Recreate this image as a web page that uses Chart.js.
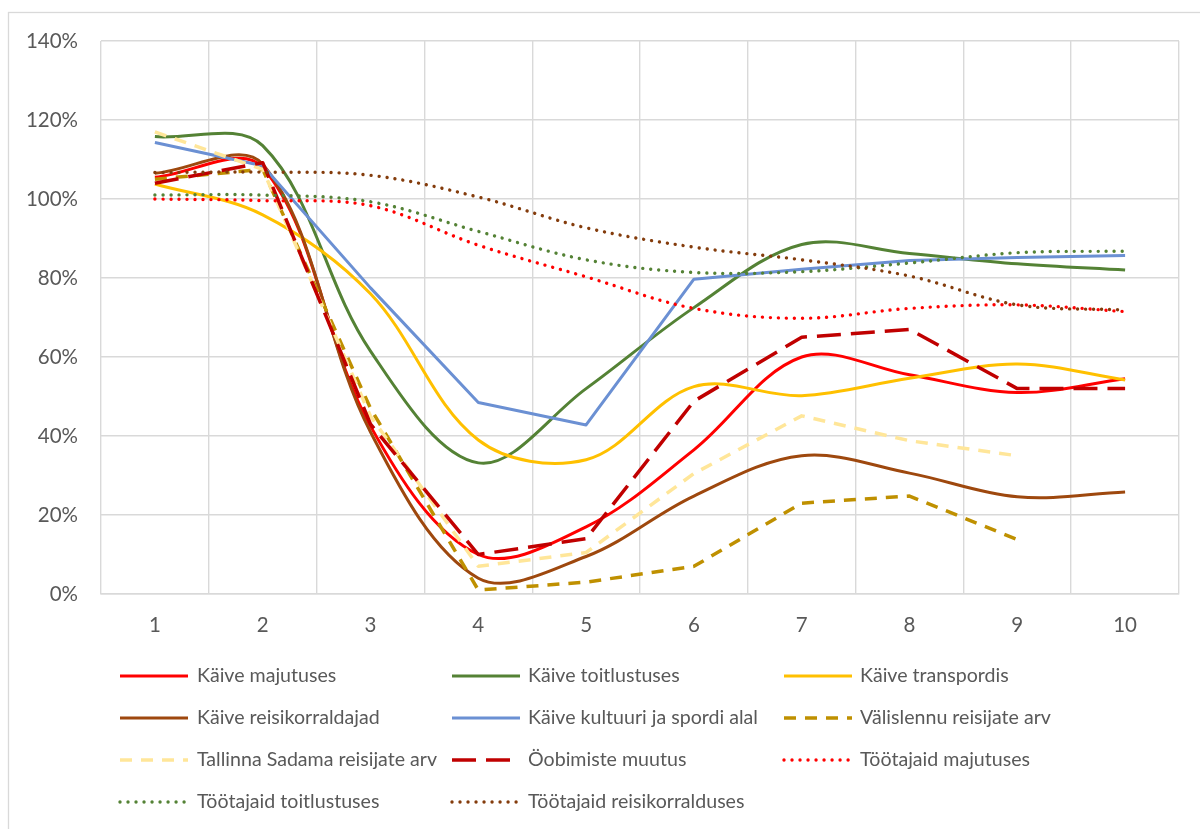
<!DOCTYPE html>
<html>
<head>
<meta charset="utf-8">
<script src="https://cdn.jsdelivr.net/npm/chart.js@4/dist/chart.umd.min.js"></script>
<style>
  html, body { margin: 0; padding: 0; background: #fff; }
  #wrap { width: 1200px; height: 829px; position: relative; }
</style>
</head>
<body>
<div id="wrap"><canvas id="c" width="1200" height="829"></canvas></div>
<script>
const categories = ['1', '2', '3', '4', '5', '6', '7', '8', '9', '10'];
const yTicks = [0, 20, 40, 60, 80, 100, 120, 140];

const kaiveMajutuses = [105.5, 108, 42.5, 10, 17, 36.5, 60, 55.5, 51, 54.5];
const kaiveToitlustuses = [115.8, 113.5, 61.5, 33.2, 52, 72.5, 88.5, 86.2, 83.6, 82];
const kaiveTranspordis = [103.8, 96, 76, 39, 34, 52.5, 50.2, 54.6, 58.2, 54.2];
const kaiveReisikorraldajad = [106.5, 108.8, 41, 4, 9.5, 24.8, 35, 30.6, 24.6, 25.8];
const kaiveKultuuri = [114.3, 108.4, 77.5, 48.5, 42.8, 79.7, 82.2, 84.4, 85.2, 85.7];
const valislennu = [105, 107.5, 47, 1, 3, 7, 23, 24.8, 13.8, null];
const tallinnaSadam = [117, 107.5, 45, 7, 10.5, 30.5, 45.1, 38.8, 35, null];
const oobimised = [104, 109.2, 43, 10, 14, 48.8, 65, 67, 52, 52];
const tootajaidMajutuses = [100, 99.6, 98.3, 88.3, 80.3, 72.3, 69.8, 72.3, 73.2, 71.5];
const tootajaidToitlustuses = [101, 101, 99.3, 91.8, 84.6, 81.4, 81.6, 83.8, 86.4, 86.8];
const tootajaidReisikorralduses = [106.7, 106.8, 106, 100.5, 92.7, 87.8, 84.6, 80.5, 73.2, 71.9];

const FONT = 'Lato, "Open Sans", sans-serif';
const TEXT = '#595959';
const GRID = '#d9d9d9';

const DOT = [0.01, 8];
const DASH = [12, 9];
const LONGDASH = [24, 10];

function ds(label, data, color, opts) {
  return Object.assign({
    label, data,
    borderColor: color, backgroundColor: color,
    borderWidth: 3,
    pointRadius: 0, pointHoverRadius: 0,
    tension: 0.35,
    fill: false,
    borderCapStyle: 'butt',
    borderJoinStyle: 'round',
    spanGaps: false
  }, opts || {});
}

const datasets = [
  ds('Käive majutuses', kaiveMajutuses, '#FF0000'),
  ds('Käive toitlustuses', kaiveToitlustuses, '#548235'),
  ds('Käive transpordis', kaiveTranspordis, '#FFC000'),
  ds('Käive reisikorraldajad', kaiveReisikorraldajad, '#9E480E'),
  ds('Käive kultuuri ja spordi alal', kaiveKultuuri, '#6B90D3', { tension: 0 }),
  ds('Välislennu reisijate arv', valislennu, '#BF9000', { tension: 0, borderDash: DASH, borderWidth: 3.5 }),
  ds('Tallinna Sadama reisijate arv', tallinnaSadam, '#FFE699', { tension: 0, borderDash: DASH, borderWidth: 3.5 }),
  ds('Öobimiste muutus', oobimised, '#C00000', { tension: 0, borderDash: LONGDASH, borderWidth: 3.5 }),
  ds('Töötajaid majutuses', tootajaidMajutuses, '#FF0000', { borderDash: DOT, borderCapStyle: 'round', borderWidth: 3.4 }),
  ds('Töötajaid toitlustuses', tootajaidToitlustuses, '#548235', { borderDash: DOT, borderCapStyle: 'round', borderWidth: 3.4 }),
  ds('Töötajaid reisikorralduses', tootajaidReisikorralduses, '#843C0C', { borderDash: DOT, borderCapStyle: 'round', borderWidth: 3.4 })
];
// later series drawn on top (as in Excel)
datasets.forEach((d, i) => { d.order = datasets.length - i; });

const frame = {
  id: 'frame',
  beforeDraw(chart) {
    const ctx = chart.ctx;
    ctx.save();
    ctx.fillStyle = '#fff';
    ctx.fillRect(0, 0, chart.width, chart.height);
    ctx.strokeStyle = GRID;
    ctx.lineWidth = 1.3;
    ctx.strokeRect(8.5, 12.5, 1300, 900);
    ctx.restore();
  }
};

const legendCols = [{ sx: 120, tx: 197 }, { sx: 452, tx: 528 }, { sx: 784, tx: 860 }];
const legendRows = [676, 718, 760, 802];
const customLegend = {
  id: 'customLegend',
  afterDraw(chart) {
    const ctx = chart.ctx;
    ctx.save();
    chart.data.datasets.forEach((d, i) => {
      const col = legendCols[i % 3];
      const y = legendRows[Math.floor(i / 3)];
      ctx.beginPath();
      ctx.strokeStyle = d.borderColor;
      ctx.lineWidth = d.borderWidth;
      ctx.lineCap = d.borderCapStyle || 'butt';
      ctx.setLineDash(d.borderDash || []);
      ctx.moveTo(col.sx, y);
      ctx.lineTo(col.sx + 68, y);
      ctx.stroke();
      ctx.setLineDash([]);
      ctx.fillStyle = TEXT;
      ctx.font = '19.6px ' + FONT;
      ctx.textBaseline = 'middle';
      ctx.textAlign = 'left';
      ctx.fillText(d.label, col.tx, y);
    });
    ctx.restore();
  }
};

new Chart(document.getElementById('c'), {
  type: 'line',
  data: { labels: categories, datasets },
  options: {
    responsive: false,
    animation: false,
    layout: { padding: { left: 0, top: 41, right: 21, bottom: 0 } },
    plugins: { legend: { display: false }, tooltip: { enabled: false } },
    scales: {
      x: {
        type: 'category',
        offset: true,
        grid: { offset: true, color: GRID, lineWidth: 1.4, drawTicks: false },
        border: { color: GRID, width: 1.4 },
        ticks: { color: TEXT, font: { family: FONT, size: 20.5 }, padding: 19, maxRotation: 0 },
        afterFit(s) { s.height = 829 - 594; }
      },
      y: {
        min: 0, max: 140,
        afterBuildTicks(s) { s.ticks = yTicks.map(v => ({ value: v })); },
        grid: { color: GRID, lineWidth: 1.4, drawTicks: false },
        border: { display: false },
        ticks: { color: TEXT, font: { family: FONT, size: 20.5 }, padding: 23, callback: v => v + '%' },
        afterFit(s) { s.width = 101; }
      }
    }
  },
  plugins: [frame, customLegend]
});
</script>
</body>
</html>
